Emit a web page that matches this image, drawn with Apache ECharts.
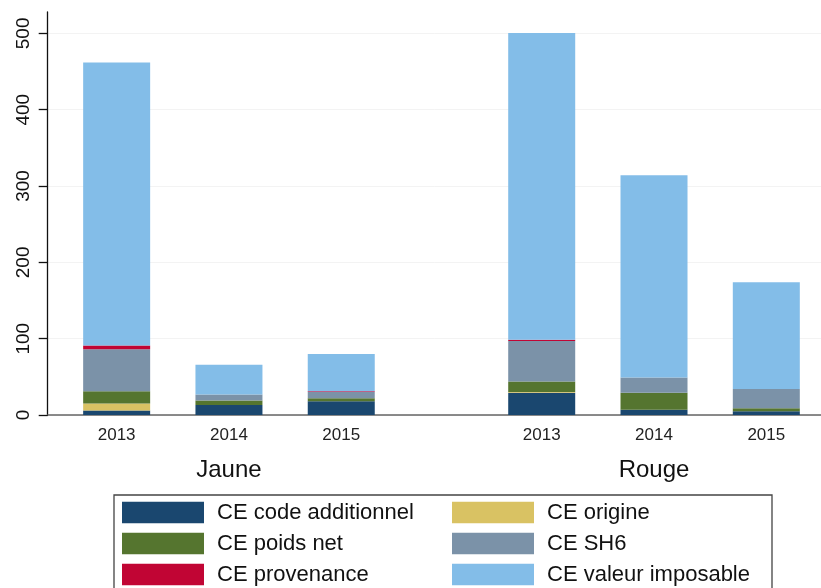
<!DOCTYPE html>
<html>
<head>
<meta charset="utf-8">
<script src="https://cdn.jsdelivr.net/npm/echarts@6/dist/echarts.min.js"></script>
<style>
  html, body { margin: 0; padding: 0; background: #fff; }
  #chart { width: 821px; height: 588px; }
</style>
</head>
<body>
<div id="chart"></div>
<script>
// categories
const years = ['2013', '2014', '2015']
const groups = ['Jaune', 'Rouge']
const seriesNames = [
  'CE code additionnel', 'CE origine', 'CE poids net',
  'CE SH6', 'CE provenance', 'CE valeur imposable'
]
// values, order: Jaune 2013-2015 then Rouge 2013-2015
const codeAdditionnel = [6, 13, 18, 29, 7, 5]
const origine = [9, 0, 0, 1, 0, 0]
const poidsNet = [16, 6, 4, 14, 22, 4]
const sh6 = [55, 8, 8, 53, 20, 25]
const provenance = [5, 0, 1, 1.5, 0, 0]
const valeurImposable = [371, 39, 49, 402, 265, 140]
const yTicks = [0, 100, 200, 300, 400, 500]

const seriesValues = [codeAdditionnel, origine, poidsNet, sh6, provenance, valeurImposable]
const colors = ['#1a476f', '#d9c263', '#55752f', '#7b92a8', '#c10534', '#83bde8']

// bar positions on the x axis: one unit per year, extra gap between groups
const GROUP_GAP = 0.785
const positions = []
const posLabels = {}
const groupCenters = []
const groupLabels = {}
groups.forEach((g, gi) => {
  years.forEach((y, yi) => {
    const p = gi * (years.length + GROUP_GAP) + yi
    positions.push(p)
    posLabels[p.toFixed(3)] = y
  })
  const c = gi * (years.length + GROUP_GAP) + (years.length - 1) / 2
  groupCenters.push(c)
  groupLabels[c.toFixed(3)] = g
})

const font = 'Liberation Sans, Arial, sans-serif'
const chart = echarts.init(document.getElementById('chart'))

chart.setOption({
  animation: false,
  grid: { left: 47.7, right: 0, top: 12, bottom: 173 },
  xAxis: [
    {
      type: 'value',
      min: -0.614,
      max: 6.272,
      axisLine: { show: true, lineStyle: { color: '#666', width: 1.5 } },
      axisTick: { show: false },
      splitLine: { show: false },
      axisLabel: {
        customValues: positions,
        formatter: v => posLabels[Number(v).toFixed(3)] || '',
        fontSize: 17,
        fontFamily: font,
        color: '#222',
        margin: 12
      }
    },
    {
      type: 'value',
      position: 'bottom',
      min: -0.614,
      max: 6.272,
      axisLine: { show: false },
      axisTick: { show: false },
      splitLine: { show: false },
      axisLabel: {
        customValues: groupCenters,
        formatter: v => groupLabels[Number(v).toFixed(3)] || '',
        fontSize: 24,
        fontFamily: font,
        color: '#111',
        margin: 43
      }
    }
  ],
  yAxis: {
    type: 'value',
    min: 0,
    max: 528,
    axisLine: { show: true, onZero: false, lineStyle: { color: '#111', width: 1.3 } },
    axisTick: { show: true, length: 9, customValues: yTicks, lineStyle: { color: '#111', width: 1.3 } },
    axisLabel: {
      customValues: yTicks,
      rotate: 90,
      fontSize: 19,
      fontFamily: font,
      color: '#111',
      margin: 14
    },
    splitLine: { show: true, lineStyle: { color: '#f3f3f3', width: 1 } }
  },
  legend: [
    {
      data: [seriesNames[0], seriesNames[2], seriesNames[4]],
      orient: 'vertical',
      left: 122,
      top: 501.5,
      padding: 0,
      itemGap: 9,
      itemWidth: 82,
      itemHeight: 21.5,
      icon: 'rect',
      textStyle: { fontSize: 22, fontFamily: font, color: '#111', lineHeight: 22, padding: [0, 0, 0, 8] }
    },
    {
      data: [seriesNames[1], seriesNames[3], seriesNames[5]],
      orient: 'vertical',
      left: 452,
      top: 501.5,
      padding: 0,
      itemGap: 9,
      itemWidth: 82,
      itemHeight: 21.5,
      icon: 'rect',
      textStyle: { fontSize: 22, fontFamily: font, color: '#111', lineHeight: 22, padding: [0, 0, 0, 8] }
    }
  ],
  graphic: [
    {
      type: 'rect',
      left: 111.5,
      top: 492.5,
      shape: { width: 658, height: 120 },
      style: { fill: 'none', stroke: '#444', lineWidth: 1.3 },
      silent: true
    }
  ],
  // value first so that it is the dimension that gets stacked
  series: seriesNames.map((name, si) => ({
    name: name,
    type: 'bar',
    stack: 'total',
    barWidth: 67,
    encode: { x: 1, y: 0 },
    itemStyle: { color: colors[si] },
    data: seriesValues[si].map((v, i) => [v, positions[i]])
  }))
})
</script>
</body>
</html>
